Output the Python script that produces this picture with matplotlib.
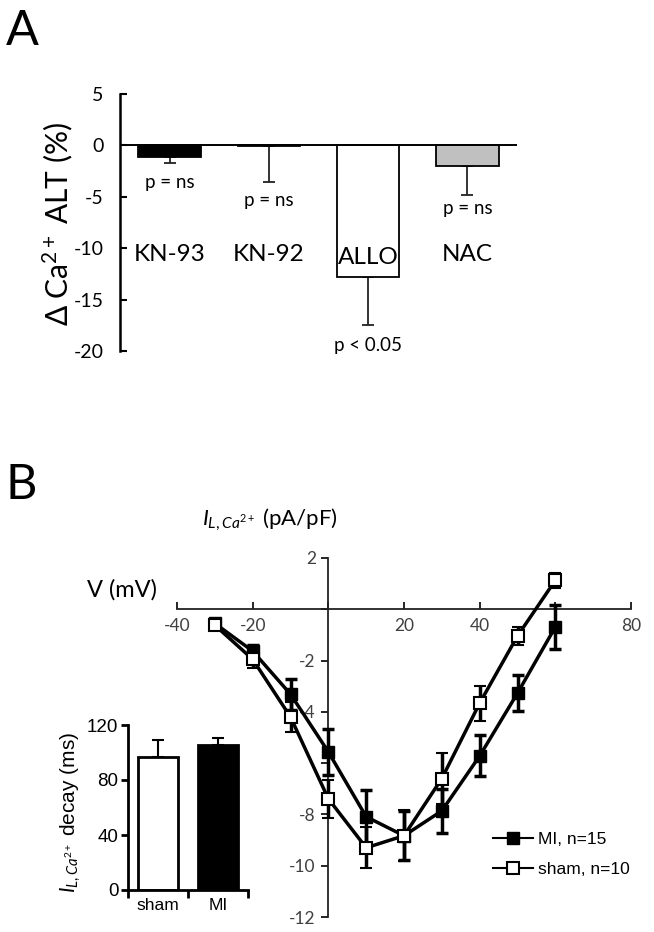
import matplotlib
matplotlib.use('Agg')
import matplotlib.pyplot as plt
from matplotlib.lines import Line2D

plt.rcParams['font.family'] = ['Lato', 'DejaVu Sans']
plt.rcParams['axes.unicode_minus'] = False
plt.rcParams['mathtext.fontset'] = 'custom'
plt.rcParams['mathtext.rm'] = 'Lato'
plt.rcParams['mathtext.it'] = 'Lato:italic'

# panel A data
drugs = ['KN-93', 'KN-92', 'ALLO', 'NAC']
delta_alt = [-1.1, -0.1, -12.85, -2.05]
delta_err = [0.6, 3.5, 4.6, 2.75]
bar_colors = ['black', 'white', 'white', '#c0c0c0']
p_labels = ['p = ns', 'p = ns', 'p < 0.05', 'p = ns']
p_y = [-3.6, -5.35, -19.5, -6.1]
name_y = [-10.6, -10.6, -10.9, -10.6]

# panel B data (I-V curve)
voltage = [-30, -20, -10, 0, 10, 20, 30, 40, 50, 60]
mi_cur = [-0.55, -1.63, -3.31, -5.56, -8.09, -8.83, -7.86, -5.72, -3.27, -0.69]
mi_err = [0.1, 0.25, 0.6, 0.9, 1.05, 0.95, 0.85, 0.8, 0.7, 0.85]
sham_cur = [-0.62, -1.95, -4.2, -7.39, -9.3, -8.83, -6.6, -3.66, -1.04, 1.13]
sham_err = [0.1, 0.35, 0.6, 0.75, 0.8, 1.0, 1.0, 0.68, 0.35, 0.3]
xticks_b = [-40, -20, 0, 20, 40, 60, 80]
xlabels_b = ['-40', '-20', '', '20', '40', '', '80']
yticks_b = [2, 0, -2, -4, -6, -8, -10, -12]
ylabels_b = ['2', '', '-2', '-4', '', '-8', '-10', '-12']

# inset data
groups = ['sham', 'MI']
decay = [96.5, 105.5]
decay_err = [12.5, 5]

W, H = 654, 932
fig = plt.figure(figsize=(W / 100, H / 100), dpi=100)


def box(l, t, r, b):
    return [l / W, 1 - b / H, (r - l) / W, (b - t) / H]


# ---------------- panel A ----------------
axA = fig.add_axes(box(120, 94, 517, 351))
xs = list(range(len(drugs)))
axA.bar(xs, delta_alt, width=0.63, color=bar_colors, edgecolor='black', linewidth=1.3, zorder=2)
axA.errorbar(xs, delta_alt, yerr=[delta_err, [0] * 4], fmt='none', ecolor='#222222',
             elinewidth=1.3, capsize=4, capthick=1.3, zorder=1)
axA.axhline(0, color='black', lw=1.4, zorder=3)
for i in xs:
    axA.text(i, p_y[i], p_labels[i], ha='center', va='center', fontsize=13.5)
    axA.text(i, name_y[i], drugs[i], ha='center', va='center', fontsize=17.5)
axA.set_xlim(-0.5, 3.5)
axA.set_ylim(-20, 5)
axA.set_yticks([5, 0, -5, -10, -15, -20])
axA.set_xticks([])
for s in ['top', 'right', 'bottom']:
    axA.spines[s].set_visible(False)
axA.spines['left'].set_linewidth(1.8)
axA.tick_params(axis='y', direction='in', length=5, width=1.5, labelsize=14, pad=12)
fig.text(58 / W, 1 - 224 / H, 'Δ Ca$^{2+}$ ALT (%)', rotation=90, ha='center', va='center',
         fontsize=21.5)
fig.text(6 / W, 1 - 45 / H, 'A', fontsize=35, ha='left', va='baseline')

# ---------------- panel B ----------------
fig.text(6 / W, 1 - 499 / H, 'B', fontsize=35, ha='left', va='baseline')
axB = fig.add_axes(box(177, 558, 631, 917))
axB.errorbar(voltage, mi_cur, yerr=mi_err, fmt='-s', color='black', mfc='black', mec='black',
             ms=9, lw=2.5, elinewidth=2.5, capsize=4, capthick=2.5, zorder=3)
axB.errorbar(voltage, sham_cur, yerr=sham_err, fmt='-s', color='black', mfc='white', mec='black',
             ms=9, mew=1.5, lw=2.5, elinewidth=2.5, capsize=4, capthick=2.5, zorder=4)
axB.set_xlim(-40, 80)
axB.set_ylim(-12, 2)
axB.spines['left'].set_position(('data', 0))
axB.spines['bottom'].set_position(('data', 0))
axB.spines['top'].set_visible(False)
axB.spines['right'].set_visible(False)
for s in ['left', 'bottom']:
    axB.spines[s].set_linewidth(1.3)
    axB.spines[s].set_color('#222222')
axB.set_xticks(xticks_b)
axB.set_xticklabels(xlabels_b)
axB.set_yticks(yticks_b)
axB.set_yticklabels(ylabels_b)
axB.tick_params(axis='x', direction='in', length=5, width=1.2, labelsize=12.5, labelcolor='#404040', pad=6)
axB.tick_params(axis='y', direction='out', length=5, width=1.2, labelsize=12.5, labelcolor='#404040', pad=4)
handles = [Line2D([], [], color='black', lw=1.5, marker='s', ms=9, mfc='black', mec='black'),
           Line2D([], [], color='black', lw=1.5, marker='s', ms=9, mfc='white', mec='black', mew=1.5)]
leg = axB.legend(handles, ['MI, n=15', 'sham, n=10'], loc='upper left',
                 bbox_to_anchor=(493 / W, 1 - 832 / H), bbox_transform=fig.transFigure,
                 frameon=False, handlelength=2.3, handletextpad=0.3, labelspacing=0.85,
                 borderpad=0, borderaxespad=0, prop={'family': 'Liberation Sans', 'size': 12.5})
fig.text(122 / W, 1 - 590 / H, 'V (mV)', ha='center', va='center', fontsize=17)
fig.text(270 / W, 1 - 520 / H, r'$I_{L,Ca^{2+}}$ (pA/pF)', ha='center', va='center', fontsize=16)

# ---------------- inset ----------------
axI = fig.add_axes(box(128, 725, 248, 890))
axI.bar([0, 1], decay, width=0.67, color=['white', 'black'], edgecolor='black', linewidth=2, zorder=2)
axI.errorbar([0, 1], decay, yerr=[[0, 0], decay_err], fmt='none', ecolor='black',
             elinewidth=1.5, capsize=4, capthick=1.5, zorder=1)
axI.set_xlim(-0.5, 1.5)
axI.set_ylim(0, 120)
axI.set_yticks([0, 40, 80, 120])
axI.set_xticks([-0.5, 0.5, 1.5])
axI.set_xticklabels([])
axI.set_xticks([0, 1], minor=True)
axI.set_xticklabels(groups, minor=True)
axI.tick_params(axis='x', which='minor', length=0, labelsize=12.5, pad=6)
axI.tick_params(axis='x', which='major', direction='out', length=6, width=2)
axI.tick_params(axis='y', direction='out', length=5, width=2, labelsize=13.5, pad=2)
for lab in axI.get_xticklabels(minor=True) + axI.get_yticklabels():
    lab.set_family('Liberation Sans')
for s in ['top', 'right']:
    axI.spines[s].set_visible(False)
for s in ['left', 'bottom']:
    axI.spines[s].set_linewidth(2)
fig.text(71 / W, 1 - 812 / H, r'$I_{L,Ca^{2+}}$ decay (ms)', rotation=90, ha='center', va='center',
         fontsize=15, family='Liberation Sans')

fig.savefig('out.png', dpi=100)
